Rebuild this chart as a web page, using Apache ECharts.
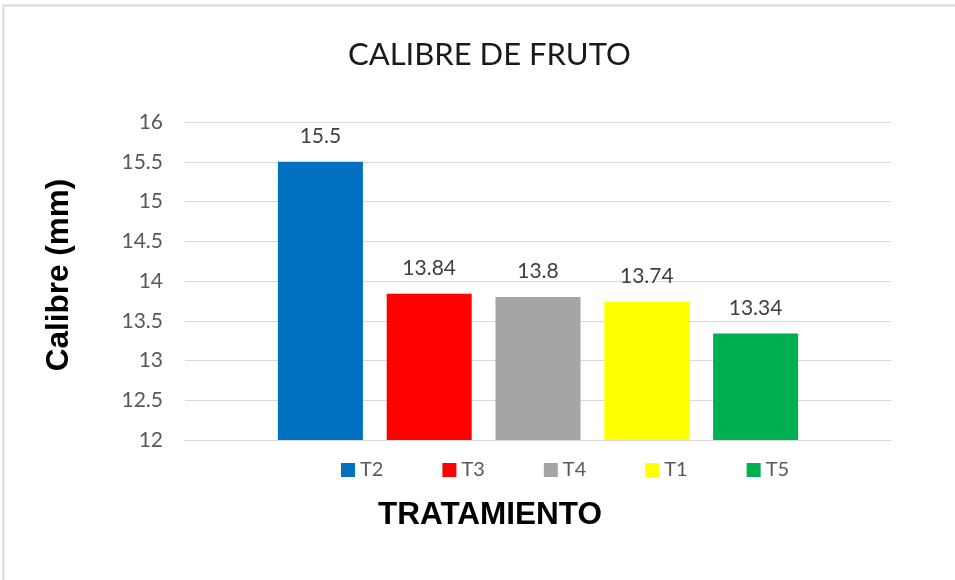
<!DOCTYPE html>
<html>
<head>
<meta charset="utf-8">
<script src="https://cdn.jsdelivr.net/npm/echarts@6/dist/echarts.min.js"></script>
<style>
  html, body { margin: 0; padding: 0; background: #fff; }
  #chart { width: 955px; height: 580px; }
</style>
</head>
<body>
<div id="chart"></div>
<script>
// datos del gráfico
var treatments = ["T2", "T3", "T4", "T1", "T5"];
var calibre = [15.5, 13.84, 13.8, 13.74, 13.34];
var barColors = ["#0070C0", "#FF0000", "#A5A5A5", "#FFFF00", "#00B050"];
var yTicks = { min: 12, max: 16, interval: 0.5 };

var myChart = echarts.init(document.getElementById("chart"));

var series = treatments.map(function (name, i) {
  return {
    name: name,
    type: "bar",
    barWidth: 85,
    barGap: "28%",
    data: [calibre[i]],
    itemStyle: { color: barColors[i] },
    label: {
      show: true,
      position: "top",
      distance: 15,
      color: "#404040",
      fontSize: 21,
      fontFamily: "Lato"
    }
  };
});

myChart.setOption({
  animation: false,
  title: {
    text: "CALIBRE DE FRUTO",
    left: 343,
    top: 34,
    textStyle: {
      fontFamily: "Lato",
      fontWeight: "normal",
      fontSize: 31,
      color: "#1a1a1a"
    }
  },
  legend: {
    data: treatments,
    left: 336,
    top: 455,
    icon: "rect",
    itemWidth: 14,
    itemHeight: 14,
    itemGap: 59,
    textStyle: { fontFamily: "Lato", fontSize: 20, color: "#595959" }
  },
  grid: {
    left: 185,
    right: 64,
    top: 122,
    bottom: 140
  },
  xAxis: {
    type: "category",
    data: [""],
    name: "TRATAMIENTO",
    nameLocation: "middle",
    nameGap: 59,
    nameTextStyle: {
      fontFamily: "Liberation Sans",
      fontWeight: "bold",
      fontSize: 31.5,
      color: "#000",
      padding: [0, 96, 0, 0]
    },
    axisTick: { show: false },
    axisLabel: { show: false },
    axisLine: { lineStyle: { color: "#d9d9d9", width: 1 } }
  },
  yAxis: {
    type: "value",
    min: yTicks.min,
    max: yTicks.max,
    interval: yTicks.interval,
    name: "Calibre (mm)",
    nameLocation: "middle",
    nameGap: 110,
    nameTextStyle: {
      fontFamily: "Liberation Sans",
      fontWeight: "bold",
      fontSize: 31.5,
      color: "#000",
      padding: [0, 0, 0, 12]
    },
    axisLine: { show: false },
    axisTick: { show: false },
    axisLabel: {
      fontFamily: "Lato",
      fontSize: 21,
      color: "#595959",
      margin: 22
    },
    splitLine: { lineStyle: { color: "#d9d9d9", width: 1 } }
  },
  graphic: [
    {
      type: "polyline",
      shape: { points: [[3.5, 580], [3.5, 5.5], [955, 5.5]] },
      style: { stroke: "#d9d9d9", lineWidth: 2, fill: null }
    }
  ],
  series: series
});
</script>
</body>
</html>
